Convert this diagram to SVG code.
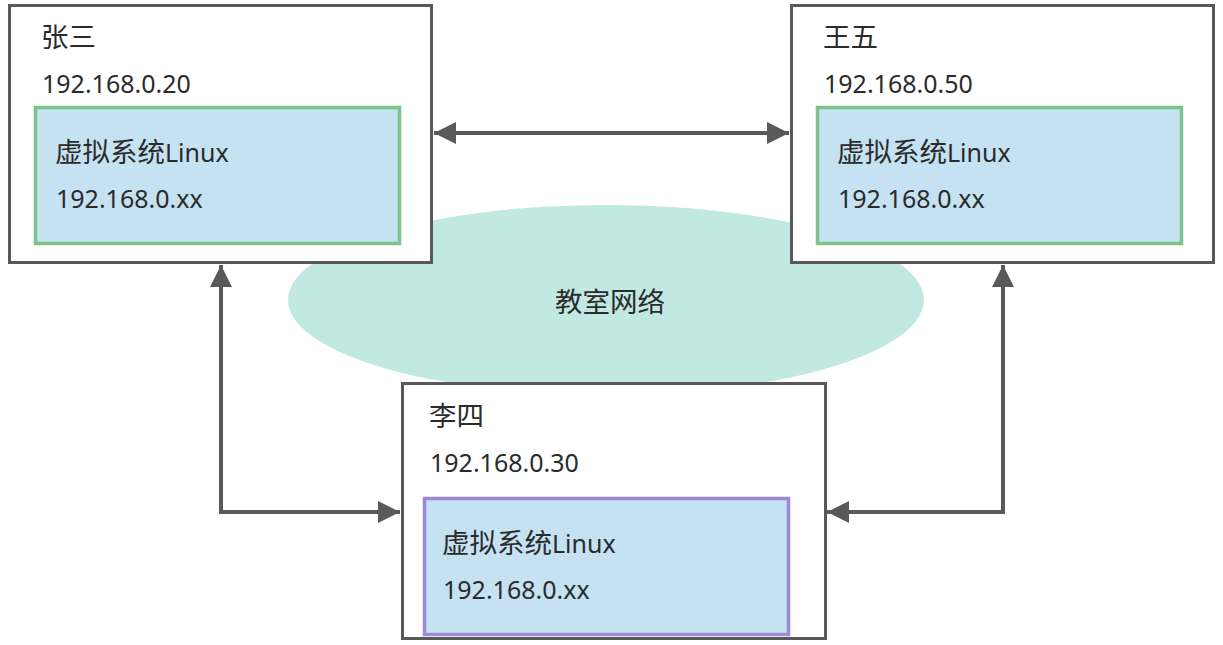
<svg xmlns="http://www.w3.org/2000/svg" width="1223" height="645" viewBox="0 0 1223 645">
<defs>
<marker id="ah" viewBox="0 0 22 22" refX="22" refY="11" markerWidth="22" markerHeight="22" markerUnits="userSpaceOnUse" orient="auto-start-reverse">
<path d="M0,0 L22,11 L0,22 Z" fill="#595959"/>
</marker>
<style>
.outer{fill:#fff;stroke:#595959;stroke-width:3}
.inner{fill:#c5e2f3;stroke-width:3.5}
.g{stroke:#7cc38a}
.p{stroke:#9d88d9}
.t{font-family:"Noto Sans","Noto Sans CJK SC",sans-serif;font-size:25px;fill:#2b2b2b}
.z{font-size:27.5px}
.c{fill:none;stroke:#595959;stroke-width:4}
</style>
</defs>
<rect width="1223" height="645" fill="#fff"/>
<g id="network">
<ellipse cx="606" cy="300" rx="318" ry="95" fill="#c1e9e2"/>
<text class="t z" x="610" y="312" text-anchor="middle">教室网络</text>
</g>
<g id="zhangsan">
<rect class="outer" x="9.5" y="5.5" width="422" height="257"/>
<text class="t z" x="41" y="47">张三</text>
<text class="t" x="42" y="93">192.168.0.20</text>
<rect class="inner g" x="35.5" y="107.5" width="364" height="136"/>
<text class="t" x="55" y="162"><tspan class="z">虚拟系统</tspan>Linux</text>
<text class="t" x="56" y="208">192.168.0.xx</text>
</g>
<g id="wangwu">
<rect class="outer" x="791.5" y="5.5" width="422" height="257"/>
<text class="t z" x="823" y="47">王五</text>
<text class="t" x="824" y="93">192.168.0.50</text>
<rect class="inner g" x="817.5" y="107.5" width="364" height="136"/>
<text class="t" x="837" y="162"><tspan class="z">虚拟系统</tspan>Linux</text>
<text class="t" x="838" y="208">192.168.0.xx</text>
</g>
<g id="lisi">
<rect class="outer" x="402.5" y="383.5" width="423" height="255"/>
<text class="t z" x="429" y="426">李四</text>
<text class="t" x="430" y="472">192.168.0.30</text>
<rect class="inner p" x="424.5" y="498.5" width="364" height="136"/>
<text class="t" x="442" y="553"><tspan class="z">虚拟系统</tspan>Linux</text>
<text class="t" x="443" y="599">192.168.0.xx</text>
</g>
<g id="connectors">
<path class="c" d="M434,133 L789,133" marker-start="url(#ah)" marker-end="url(#ah)"/>
<path class="c" d="M221,265 L221,512 L400,512" marker-start="url(#ah)" marker-end="url(#ah)"/>
<path class="c" d="M1003,265 L1003,512 L827,512" marker-start="url(#ah)" marker-end="url(#ah)"/>
</g>
</svg>
